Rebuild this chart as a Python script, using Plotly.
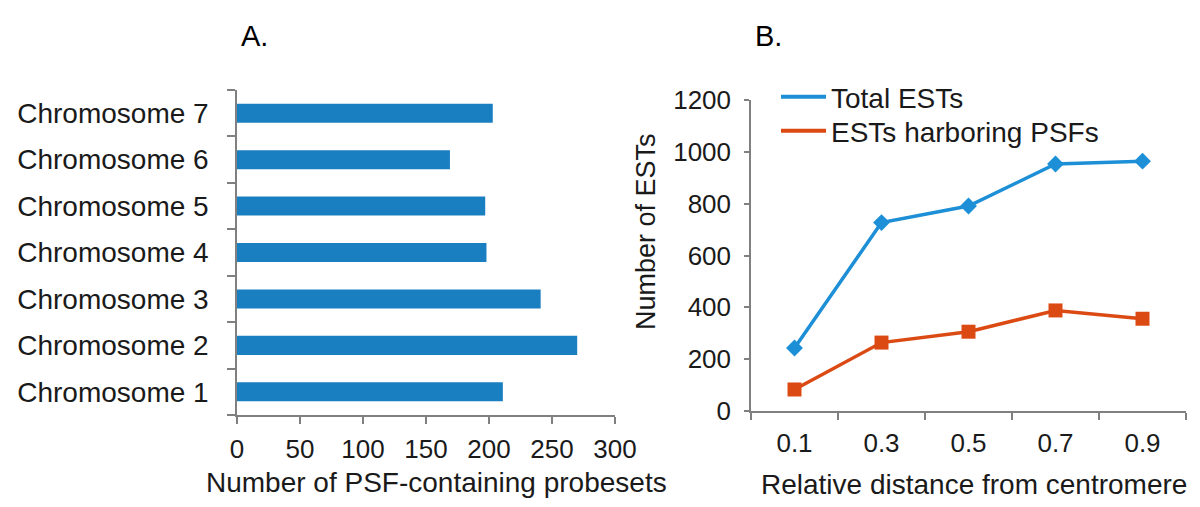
import plotly.graph_objects as go

# Panel A data
chromosomes = ["Chromosome 1", "Chromosome 2", "Chromosome 3", "Chromosome 4",
               "Chromosome 5", "Chromosome 6", "Chromosome 7"]
psf_probesets = [211, 270, 241, 198, 197, 169, 203]

# Panel B data
distance = ["0.1", "0.3", "0.5", "0.7", "0.9"]
total_ests = [243, 727, 791, 953, 964]
psf_ests = [83, 264, 306, 388, 356]

FONT = "Liberation Sans, Arial, sans-serif"
TXT = "#1a1a1a"
AX = "#808080"
FS_TICK = 26
FS_CAT = 28
FS_TITLE = 28
BLUE = "#1d8fd6"
RED = "#dc4a14"

# figure sized to fit inside the page (body has an 8px default margin)
W, H, OFF = 1192, 499, 8


def px(x):
    return (x - OFF) / W


def py(y):
    return 1 - (y - OFF) / H


fig = go.Figure()

fig.add_trace(go.Bar(
    x=psf_probesets, y=chromosomes, orientation="h",
    marker=dict(color="#1a7fc1", line=dict(width=0)),
    width=0.41, showlegend=False, xaxis="x", yaxis="y",
))

fig.add_trace(go.Scatter(
    x=distance, y=total_ests, mode="lines+markers", name="Total ESTs",
    line=dict(color=BLUE, width=3.5), showlegend=False,
    marker=dict(symbol="diamond", size=13, color=BLUE),
    xaxis="x2", yaxis="y2",
))
fig.add_trace(go.Scatter(
    x=distance, y=psf_ests, mode="lines+markers", name="ESTs harboring PSFs",
    line=dict(color=RED, width=3.5), showlegend=False,
    marker=dict(symbol="square", size=14, color=RED),
    xaxis="x2", yaxis="y2",
))
# legend entries (line only, as in the reference)
fig.add_trace(go.Scatter(x=[None], y=[None], mode="lines", name="Total ESTs",
                         line=dict(color=BLUE, width=4), legend="legend",
                         xaxis="x2", yaxis="y2"))
fig.add_trace(go.Scatter(x=[None], y=[None], mode="lines", name="ESTs harboring PSFs",
                         line=dict(color=RED, width=4), legend="legend2",
                         xaxis="x2", yaxis="y2"))

axis_common = dict(showline=True, linecolor=AX, linewidth=1.5, showgrid=False,
                   zeroline=False, ticks="outside", tickcolor=AX, tickwidth=1.5,
                   automargin=False)

legend_common = dict(xanchor="left", yanchor="middle", itemwidth=45,
                     font=dict(family=FONT, size=FS_TITLE, color=TXT),
                     bgcolor="rgba(0,0,0,0)", borderwidth=0)

fig.update_layout(
    template="none",
    width=W, height=H, autosize=False,
    margin=dict(l=0, r=0, t=0, b=0, pad=0),
    paper_bgcolor="white", plot_bgcolor="white",
    font=dict(family=FONT, size=FS_TICK, color=TXT),
    xaxis=dict(domain=[px(237), px(615)], range=[0, 300], dtick=50, ticklen=7,
               anchor="y", ticklabelstandoff=3,
               tickfont=dict(family=FONT, size=FS_TICK, color=TXT), **axis_common),
    yaxis=dict(domain=[py(415), py(90)], type="category", categoryorder="array",
               categoryarray=chromosomes, range=[-0.5, 6.5], tickson="boundaries",
               ticklen=8, anchor="x", ticklabelstandoff=21,
               tickfont=dict(family=FONT, size=FS_CAT, color=TXT), **axis_common),
    xaxis2=dict(domain=[px(751), px(1186)], type="category", categoryorder="array",
                categoryarray=distance, range=[-0.5, 4.5], tickson="boundaries",
                ticklen=7, anchor="y2", ticklabelstandoff=8,
                tickfont=dict(family=FONT, size=FS_TICK, color=TXT), **axis_common),
    yaxis2=dict(domain=[py(411), py(100)], range=[0, 1200], dtick=200, ticklen=5,
                anchor="x2", ticklabelstandoff=8,
                tickfont=dict(family=FONT, size=FS_TICK, color=TXT), **axis_common),
    showlegend=True,
    legend=dict(x=px(776), y=py(97), **legend_common),
    legend2=dict(x=px(776), y=py(131), **legend_common),
    annotations=[
        dict(text="A.", x=px(254), y=py(36), xanchor="center", yanchor="middle",
             xref="paper", yref="paper", showarrow=False,
             font=dict(family=FONT, size=29, color="#000")),
        dict(text="B.", x=px(768), y=py(36), xanchor="center", yanchor="middle",
             xref="paper", yref="paper", showarrow=False,
             font=dict(family=FONT, size=29, color="#000")),
        dict(text="Number of PSF-containing probesets", x=px(436), y=py(482),
             xanchor="center", yanchor="middle",
             xref="paper", yref="paper", showarrow=False,
             font=dict(family=FONT, size=FS_TITLE, color=TXT)),
        dict(text="Relative distance from centromere", x=px(974), y=py(484),
             xanchor="center", yanchor="middle",
             xref="paper", yref="paper", showarrow=False,
             font=dict(family=FONT, size=FS_TITLE, color=TXT)),
        dict(text="Number of ESTs", x=px(646), y=py(232), xanchor="center",
             yanchor="middle", xref="paper", yref="paper", showarrow=False,
             textangle=-90, font=dict(family=FONT, size=27, color=TXT)),
    ],
)

fig.write_html("out.html")
